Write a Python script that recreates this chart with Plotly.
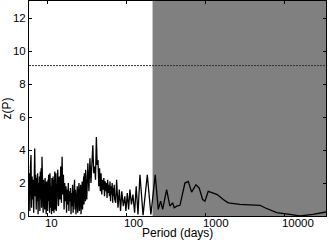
import plotly.graph_objects as go

# Periodogram: period (days) and power z(P)
period = [
    5.8, 5.9, 6.0, 6.1, 6.2, 6.3, 6.4, 6.5, 6.6, 6.7, 6.8, 6.9, 7.0, 7.1, 7.2, 7.3, 7.4, 7.5,
    7.6, 7.7, 7.8, 7.9, 8.0, 8.1, 8.2, 8.3, 8.4, 8.5, 8.6, 8.7, 8.8, 8.9, 9.0, 9.1, 9.2, 9.3,
    9.4, 9.5, 9.6, 9.7, 9.8, 9.9, 10.0, 10.1, 10.2, 10.3, 10.4, 10.5, 10.6, 10.7, 10.8, 10.9,
    11.0, 11.1, 11.2, 11.3, 11.4, 11.5, 11.6, 11.7, 11.8, 11.9, 12.0, 12.1, 12.2, 12.3, 12.4,
    12.5, 12.6, 12.7, 12.8, 12.9,
    13.0, 13.3, 13.6, 13.9, 14.2, 14.5, 14.8, 15.1, 15.4, 15.7, 16.0, 16.3, 16.6, 16.9, 17.2,
    17.5, 17.8, 18.1, 18.4, 18.7, 19.0, 19.3, 19.6, 19.9, 20.2, 20.5, 20.8, 21.1, 21.4, 21.7,
    22.0, 22.3, 22.6, 22.9, 23.2, 23.5, 23.8, 24.1, 24.4, 24.7, 25.0, 25.3, 25.6, 25.9, 26.2,
    26.5, 26.8, 27.1, 27.4, 27.7, 28.0, 28.3, 28.6, 28.9, 29.2, 29.5, 29.8,
    30, 31, 32, 33, 34, 35, 36, 37, 38, 39, 40, 41, 42, 43, 44, 45, 46, 47, 48, 49, 50, 51,
    52, 53, 54, 55, 56, 57, 58, 59, 60, 61, 62, 63, 64, 65, 66, 67, 68, 69, 70,
    72, 74, 77, 80, 83, 86, 90, 94, 97, 101, 105, 109, 114, 119, 125, 131, 138, 146, 160,
    181, 201, 228, 249, 267, 283, 318, 350, 379, 397, 426, 469, 542, 597, 659, 747, 822,
    908, 971, 1069, 1216, 1390, 1656, 1915, 2692, 4826, 5580, 7856, 11570, 15490, 22600, 33700,
]
z_power = [
    2.6, 0.3, 2.9, 3.7, 0.5, 2.4, 1.0, 2.2, 0.2, 2.8, 4.1, 1.2, 2.5, 0.4, 2.3, 0.9, 2.6, 0.1,
    2.0, 1.1, 2.4, 0.3, 2.7, 1.0, 2.9, 0.5, 3.6, 1.4, 2.5, 0.2, 2.2, 0.8, 2.0, 0.4, 2.3, 1.0,
    1.8, 0.1, 2.1, 0.7, 1.9, 0.3, 2.2, 0.9, 2.5, 0.4, 2.0, 0.2, 2.6, 1.0, 2.1, 0.5,
    1.8, 0.1, 2.3, 0.8, 1.7, 0.3, 2.4, 0.6, 2.0, 0.2, 2.2, 1.1, 2.7, 0.4, 2.3,
    0.9, 2.6, 0.3, 2.1, 0.7,
    1.2, 2.8, 0.6, 2.4, 1.0, 3.0, 0.8, 3.6, 1.3, 2.5, 0.4, 2.0, 0.9, 1.8, 0.2,
    1.6, 0.7, 2.0, 0.3, 1.5, 0.9, 1.7, 0.1, 1.4, 0.6, 1.9, 0.2, 1.3, 0.8, 2.2,
    0.4, 1.6, 0.1, 1.2, 0.7, 1.8, 0.2, 1.5, 0.9, 2.0, 0.3, 1.4, 0.6, 1.9, 0.1,
    1.6, 0.8, 2.1, 0.4, 1.7, 1.0, 2.4, 0.7, 2.6, 1.2, 2.2, 0.9,
    2.8, 1.0, 3.2, 1.5, 3.5, 2.0, 3.8, 4.3, 2.6, 3.0, 2.2, 4.8, 3.1, 3.4, 1.8, 2.9, 1.5, 2.6,
    1.3, 2.2, 1.6, 2.3, 1.2, 2.1, 1.5, 2.0, 1.1, 2.2, 1.4, 1.9, 1.2, 2.1, 0.9, 1.8, 1.3, 2.0,
    0.8, 1.7, 1.2, 1.9, 1.0,
    0.8, 2.2, 0.5, 1.6, 0.3, 1.5, 0.6, 1.2, 0.3, 1.4, 0.4, 1.6, 0.7, 1.3, 0.2, 1.8, 0.1, 2.5,
    0.05, 2.5, 0.1, 2.5, 0.4, 0.9, 0.4, 1.6, 0.6, 0.8, 0.5, 0.6, 0.65, 2.0, 2.1, 1.45, 1.9,
    1.7, 1.0, 0.9, 1.5, 1.4, 1.3, 1.0, 0.8, 0.7, 0.65, 0.5, 0.2, 0.1, 0.0, 0.1, 0.25,
]

threshold = 9.13          # false-alarm level (dashed line)
shade_start = 211         # periods longer than this are shaded
x_tickvals = [10, 100, 1000, 10000]
x_ticktext = ["10", "100", "1000", "10000"]
y_tickvals = [0, 2, 4, 6, 8, 10, 12]
x_title = "Period (days)"
y_title = "z(P)"

font = dict(family="Liberation Sans, Arial, sans-serif", size=11.5, color="black")

fig = go.Figure()
fig.add_trace(go.Scatter(
    x=period, y=z_power, mode="lines",
    line=dict(color="black", width=1.3),
    showlegend=False, hoverinfo="skip",
))

fig.add_shape(type="rect", xref="x", yref="paper",
              x0=shade_start, x1=period[-1] * 2, y0=0, y1=1,
              fillcolor="#808080", line=dict(width=0), layer="below")
fig.add_shape(type="line", xref="paper", yref="y",
              x0=0, x1=1, y0=threshold, y1=threshold,
              line=dict(color="#333333", width=1, dash="2px,1px"), layer="above")

# x-axis title placed just under the tick labels
fig.add_annotation(text=x_title, xref="paper", yref="paper", x=0.5, y=-0.077,
                   xanchor="center", yanchor="middle", showarrow=False,
                   font=dict(size=12, color="black"))

fig.update_layout(
    template="none",
    width=328, height=242,
    margin=dict(l=29, r=2, t=1, b=26, pad=0),
    paper_bgcolor="white", plot_bgcolor="white",
    font=font,
    xaxis=dict(
        type="log", range=[0.76, 4.52], automargin=False,
        tickvals=x_tickvals, ticktext=x_ticktext,
        ticks="inside", ticklen=3, tickcolor="black",
        ticklabelposition="outside right",
        ticklabelstandoff=-4, ticklabelshift=-4,
        showline=True, linecolor="black", linewidth=1, mirror="ticks",
        showgrid=False, zeroline=False,
    ),
    yaxis=dict(
        range=[0, 13.05], automargin=False,
        tickvals=y_tickvals,
        ticks="inside", ticklen=3, tickcolor="black",
        showline=True, linecolor="black", linewidth=1, mirror="ticks",
        showgrid=False, zeroline=False,
        title=dict(text=y_title, standoff=2, font=dict(size=12)),
    ),
)

fig.write_html("out.html", config={"displayModeBar": False},
               post_script="document.body.style.margin='0';")
